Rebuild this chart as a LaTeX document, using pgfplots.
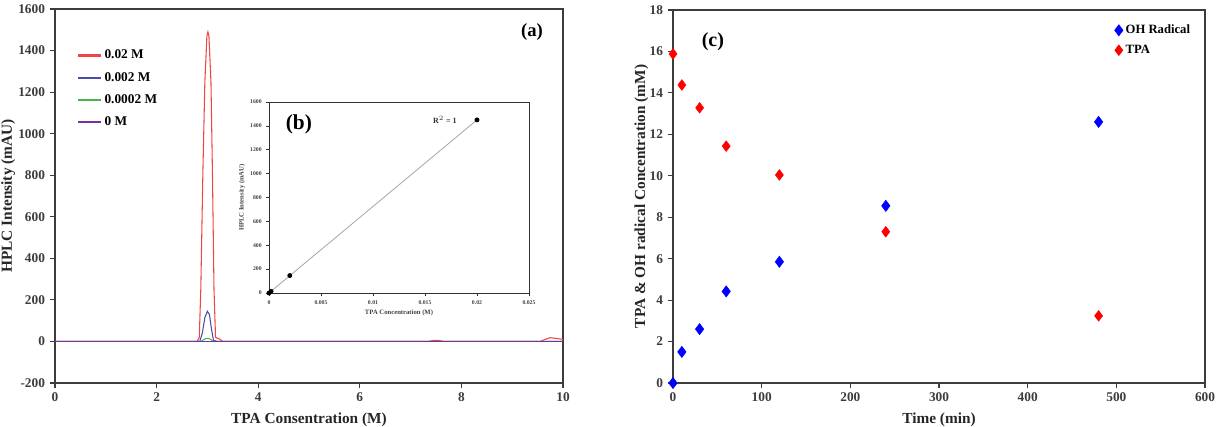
\documentclass[border=0pt]{standalone}
\usepackage{pgfplots}
\pgfplotsset{compat=1.18}
\usepackage{fontspec}
\setmainfont{Liberation Serif}
\definecolor{cred}{RGB}{238,70,70}
\definecolor{cblue}{RGB}{70,80,170}
\definecolor{cgreen}{RGB}{70,180,70}
\definecolor{cpurple}{RGB}{120,50,160}
\definecolor{axgray}{RGB}{60,60,60}
\pgfplotsset{
  mainax/.style={
    scale only axis,
    axis line style={draw=axgray, line width=1.3pt},
    tick style={draw=axgray, line width=0.8pt},
    tick align=outside,
    major tick length=4pt,
    xtick pos=bottom, ytick pos=left,
    tick label style={font=\fontsize{10}{12}\selectfont\bfseries, text=axgray},
    label style={font=\fontsize{11.5}{13}\selectfont\bfseries, text=black!85},
    /pgf/number format/assume math mode=true,
    /pgf/number format/1000 sep={},
  }
}
\begin{document}
\begin{tikzpicture}
\path[use as bounding box] (0,0) rectangle (918pt,320.25pt);

% ---------------- (a) ----------------
\begin{axis}[mainax,
  at={(41.25pt,33pt)}, anchor=south west,
  width=381pt, height=280.5pt,
  xmin=0, xmax=10, ymin=-200, ymax=1600,
  xtick={0,2,...,10}, ytick={-200,0,...,1600},
  xlabel={TPA Consentration (M)},
  ylabel={HPLC Intensity (mAU)},
  ylabel style={yshift=-4.5pt},
  xlabel style={yshift=-1pt},
  legend style={draw=none, fill=none, at={(0.035,0.905)}, anchor=north west,
    font=\fontsize{10}{12}\selectfont\bfseries, row sep=4.5pt,
    legend cell align=left},
  legend image code/.code={\draw[#1, line width=1.6pt] (0pt,0pt) -- (17pt,0pt);},
]
\addplot[cred, line width=0.8pt] table {
x y
0 0
2.80 0
2.84 20
2.87 250
2.91 800
2.95 1250
2.99 1470
3.01 1490
3.03 1470
3.07 1250
3.10 800
3.13 250
3.16 20
3.20 15
3.24 12
3.30 0
7.35 0
7.45 5
7.55 5
7.65 0
9.55 0
9.65 10
9.75 18
9.85 15
10 10
};
\addlegendentry{0.02 M}
\addplot[cblue, line width=0.8pt] table {
x y
0 0
2.85 0
2.90 40
2.95 115
3.00 145
3.04 130
3.08 60
3.12 5
3.20 0
10 0
};
\addlegendentry{0.002 M}
\addplot[cgreen, line width=0.8pt] table {
x y
0 0
2.88 0
2.95 12
3.00 15
3.05 12
3.12 0
10 0
};
\addlegendentry{0.0002 M}
\addplot[cpurple, line width=0.8pt] table {
x y
0 -1
10 -1
};
\addlegendentry{0 M}
\node[font=\fontsize{14}{16}\selectfont\bfseries] at (rel axis cs:0.939,0.938) {(a)};
\end{axis}

% ---------------- (b) inset ----------------
\begin{axis}[
  scale only axis,
  at={(201.75pt,100.5pt)}, anchor=south west,
  width=195pt, height=143.25pt,
  axis background/.style={fill=white},
  axis line style={draw=black!80, line width=0.6pt},
  tick style={draw=black!80, line width=0.4pt},
  tick align=outside, major tick length=2pt,
  xtick pos=bottom, ytick pos=left,
  xmin=0, xmax=0.025, ymin=0, ymax=1600,
  scaled x ticks=false,
  xtick={0,0.005,0.01,0.015,0.02,0.025},
  xticklabels={0,0.005,0.01,0.015,0.02,0.025},
  ytick={0,200,...,1600},
  tick label style={font=\fontsize{4.3}{5}\selectfont\bfseries, text=black!75},
  label style={font=\fontsize{5}{6}\selectfont\bfseries, text=black!75},
  /pgf/number format/assume math mode=true,
  /pgf/number format/1000 sep={},
  xlabel={TPA Concentration (M)},
  ylabel={HPLC Intensity (mAU)},
  xlabel style={yshift=3pt},
  ylabel style={yshift=-3pt},
]
\addplot[black!35, line width=0.6pt] coordinates {(0,0) (0.02,1450)};
\addplot[only marks, mark=*, mark size=1.6pt, black] coordinates {
(0,0) (0.0002,14) (0.002,146) (0.02,1450)};
\node[font=\fontsize{6}{7}\selectfont\bfseries, text=black!80, anchor=east] at (axis cs:0.0185,1450) {R$^{2}$ = 1};
\node[font=\fontsize{16}{18}\selectfont\bfseries] at (rel axis cs:0.115,0.885) {(b)};
\end{axis}

% ---------------- (c) ----------------
\begin{axis}[mainax,
  at={(504.75pt,33pt)}, anchor=south west,
  width=399pt, height=279.75pt,
  xmin=0, xmax=600, ymin=0, ymax=18,
  xtick={0,100,...,600}, ytick={0,2,...,18},
  xlabel={Time (min)},
  ylabel={TPA \& OH radical Concentration (mM)},
  ylabel style={yshift=-6pt},
  xlabel style={yshift=-1pt},
  legend style={draw=none, fill=none, at={(0.985,0.975)}, anchor=north east,
    font=\fontsize{9.5}{11}\selectfont\bfseries, row sep=3pt,
    legend cell align=left},
]
\addplot[only marks, mark=diamond*, mark size=4.2pt, color=blue, mark options={fill=blue, draw=blue}] table {
x y
0 0
10 1.5
30 2.6
60 4.42
120 5.85
240 8.55
480 12.6
};
\addlegendentry{OH Radical}
\addplot[only marks, mark=diamond*, mark size=4.0pt, color=red, mark options={fill=red, draw=red}] table {
x y
0 15.88
10 14.38
30 13.28
60 11.43
120 10.04
240 7.3
480 3.24
};
\addlegendentry{TPA}
\node[font=\fontsize{15}{17}\selectfont\bfseries] at (rel axis cs:0.075,0.914) {(c)};
\end{axis}
\end{tikzpicture}
\end{document}
